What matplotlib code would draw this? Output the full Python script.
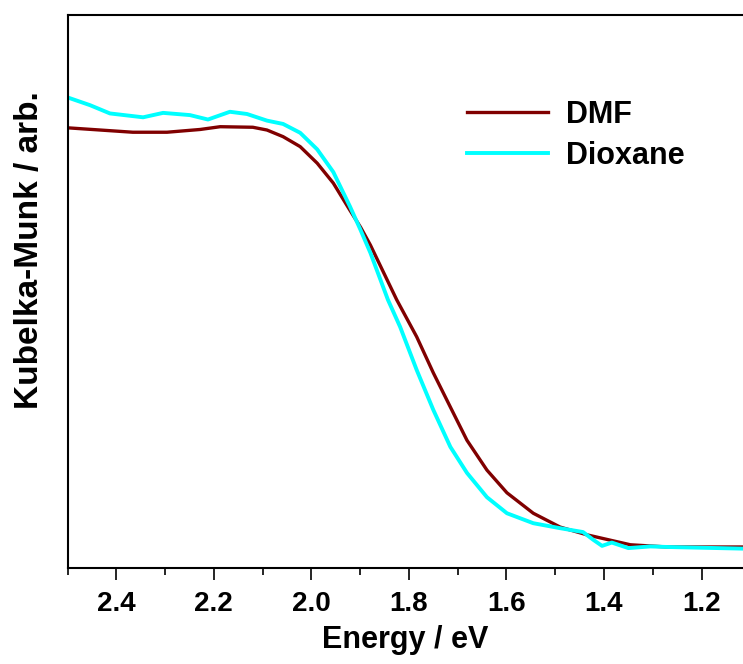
import numpy as np
import matplotlib
matplotlib.use('Agg')
import matplotlib.pyplot as plt
from matplotlib.ticker import MultipleLocator

plt.rcParams['font.family'] = ['Liberation Sans', 'DejaVu Sans']

# Kubelka-Munk spectra (arb. units)
energy_dmf = [2.500, 2.433, 2.366, 2.296, 2.228, 2.187, 2.120, 2.091, 2.058, 2.023,
              1.988, 1.955, 1.921, 1.899, 1.879, 1.825, 1.784, 1.750, 1.715, 1.681,
              1.640, 1.599, 1.545, 1.490, 1.435, 1.346, 1.270, 1.114]
km_dmf = [0.796, 0.792, 0.788, 0.788, 0.793, 0.798, 0.797, 0.792, 0.780, 0.762,
          0.732, 0.696, 0.647, 0.616, 0.584, 0.485, 0.418, 0.353, 0.291, 0.231,
          0.177, 0.136, 0.099, 0.074, 0.060, 0.042, 0.038, 0.038]

energy_diox = [2.500, 2.454, 2.413, 2.345, 2.304, 2.249, 2.212, 2.167, 2.132, 2.091,
               2.058, 2.023, 1.988, 1.955, 1.921, 1.900, 1.879, 1.843, 1.818, 1.784,
               1.750, 1.715, 1.681, 1.640, 1.599, 1.545, 1.490, 1.443, 1.422, 1.404,
               1.384, 1.350, 1.305, 1.270, 1.114]
km_diox = [0.851, 0.837, 0.822, 0.815, 0.823, 0.819, 0.811, 0.825, 0.821, 0.809,
           0.803, 0.787, 0.757, 0.716, 0.654, 0.613, 0.570, 0.485, 0.436, 0.358,
           0.286, 0.219, 0.172, 0.128, 0.099, 0.081, 0.072, 0.065, 0.051, 0.040,
           0.046, 0.036, 0.039, 0.038, 0.035]

fig = plt.figure(figsize=(7.43, 6.64), dpi=100)
ax = fig.add_axes([67.5/743, 96/664, 1 - 67.5/743, 553/664])

ax.plot(energy_dmf, km_dmf, color='#800000', lw=2.4, label='DMF')
ax.plot(energy_diox, km_diox, color='#00FFFF', lw=2.8, label='Dioxane')

ax.set_xlim(2.5, 1.115)
ax.set_ylim(0, 1)
ax.xaxis.set_major_locator(MultipleLocator(0.2))
ax.xaxis.set_minor_locator(MultipleLocator(0.1))
ax.set_yticks([])
ax.tick_params(axis='x', which='major', direction='out', length=8.5, width=1.2,
               labelsize=20, pad=8)
ax.tick_params(axis='x', which='minor', direction='out', length=5, width=1.2)
for lab in ax.get_xticklabels():
    lab.set_fontweight('bold')
ax.spines['right'].set_visible(False)
for s in ['left', 'bottom', 'top']:
    ax.spines[s].set_linewidth(1.5)

ax.set_xlabel('Energy / eV', fontsize=22, fontweight='bold', labelpad=6)
ax.set_ylabel('Kubelka-Munk / arb.', fontsize=24, fontweight='bold')
ax.yaxis.set_label_coords(-0.034, 0.575)

leg = ax.legend(loc='upper left', bbox_to_anchor=(0.591, 0.846), frameon=False,
                fontsize=22, handlelength=2.65, handletextpad=0.6,
                labelspacing=0.36, borderpad=0, borderaxespad=0)
for t in leg.get_texts():
    t.set_fontweight('bold')

fig.savefig('out.png', dpi=100)
